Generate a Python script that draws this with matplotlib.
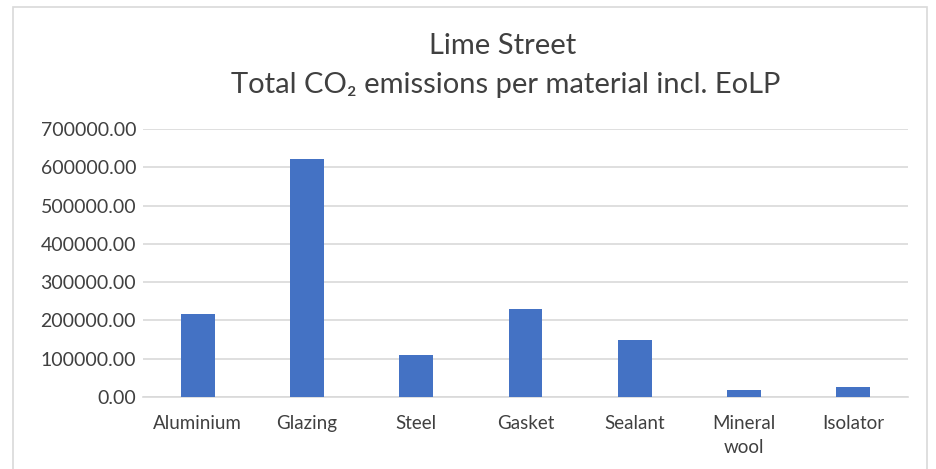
import matplotlib
matplotlib.use("Agg")
import matplotlib.pyplot as plt
from matplotlib.patches import Rectangle

categories = ["Aluminium", "Glazing", "Steel", "Gasket", "Sealant", "Mineral\nwool", "Isolator"]
values = [215500, 622500, 110000, 228600, 150000, 17500, 25400]
yticks = [0, 100000, 200000, 300000, 400000, 500000, 600000, 700000]

plt.rcParams['font.family'] = ['Lato', 'DejaVu Sans']

W, H = 936, 469
fig = plt.figure(figsize=(W / 100, H / 100), dpi=100)
fig.patch.set_facecolor("white")

# chart border
fig.patches.append(Rectangle((13 / W, -0.05), (927 - 13) / W, 1 - 7 / H + 0.05,
                             transform=fig.transFigure, fill=False,
                             edgecolor="#d9d9d9", linewidth=1.2))

ax = fig.add_axes([143 / W, 1 - 397 / H, (908 - 143) / W, (397 - 129) / H])
x = list(range(len(categories)))
ax.bar(x, values, width=0.31, color="#4472C4", zorder=3)
ax.set_xlim(-0.5, len(categories) - 0.5)
ax.set_ylim(0, 700000)
ax.set_yticks(yticks)
ax.set_yticklabels([f"{v:.2f}" for v in yticks], fontsize=14, color="#404040")
ax.set_xticks(x)
ax.set_xticklabels(categories, fontsize=13.5, color="#404040", linespacing=1.5)
ax.tick_params(axis="y", length=0, pad=5)
ax.tick_params(axis="x", length=0, pad=13)
ax.grid(axis="y", color="#d9d9d9", linewidth=1.2, zorder=0)
for s in ["top", "right", "left"]:
    ax.spines[s].set_visible(False)
ax.spines["bottom"].set_color("#d9d9d9")
ax.spines["bottom"].set_linewidth(1.2)

fig.text(503 / W, 1 - 46 / H, "Lime Street", ha="center", va="center", fontsize=21, color="#404040")
fig.text(506 / W, 1 - 85 / H, "Total CO\u2082 emissions per material incl. EoLP", ha="center", va="center",
         fontsize=21, color="#404040")

fig.savefig("out.png", dpi=100, facecolor="white")
